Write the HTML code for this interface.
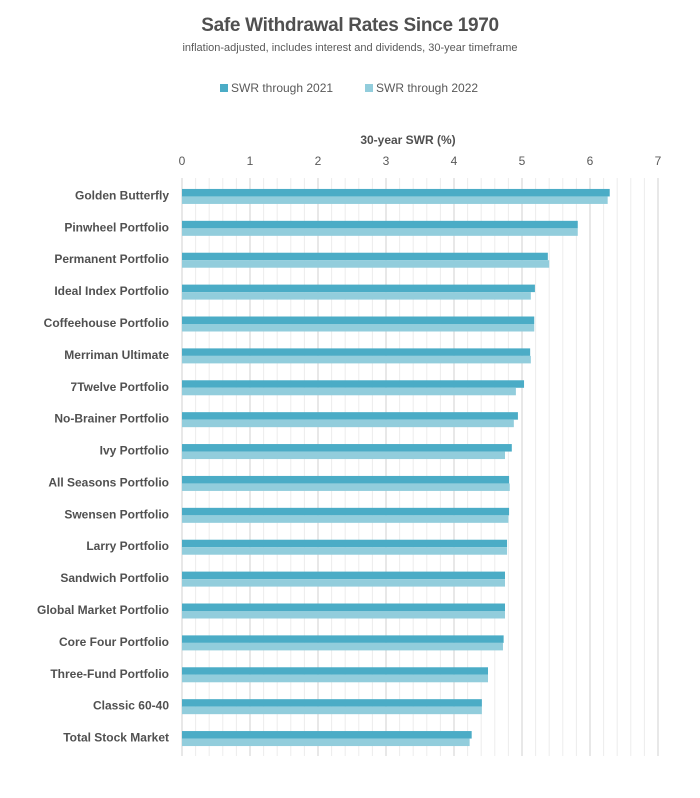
<!DOCTYPE html>
<html><head><meta charset="utf-8">
<style>
body{margin:0;background:#fff;width:700px;height:793px;overflow:hidden;font-family:"Liberation Sans",sans-serif;}
svg text{font-family:"Liberation Sans",sans-serif;}
</style></head>
<body>
<svg id="chart" width="700" height="793" xmlns="http://www.w3.org/2000/svg">
<text x="350" y="31" text-anchor="middle" font-size="19" font-weight="bold" fill="#505050" letter-spacing="-0.3">Safe Withdrawal Rates Since 1970</text>
<text x="350" y="51" text-anchor="middle" font-size="11" fill="#595959">inflation-adjusted, includes interest and dividends, 30-year timeframe</text>
<g>
<g><rect x="220" y="84" width="8" height="8" fill="#4bacc6"/><text x="231" y="92" font-size="12" fill="#595959">SWR through 2021</text></g>
<g><rect x="365" y="84" width="8" height="8" fill="#92cddc"/><text x="376" y="92" font-size="12" fill="#595959">SWR through 2022</text></g>
</g>
<text x="408" y="144" text-anchor="middle" font-size="12" font-weight="bold" fill="#505050">30-year SWR (%)</text>
<g id="grid"></g><g id="ticks"></g><g id="bars"></g><g id="labels"></g>
</svg>
<script>
const categories=["Golden Butterfly","Pinwheel Portfolio","Permanent Portfolio","Ideal Index Portfolio","Coffeehouse Portfolio","Merriman Ultimate","7Twelve Portfolio","No-Brainer Portfolio","Ivy Portfolio","All Seasons Portfolio","Swensen Portfolio","Larry Portfolio","Sandwich Portfolio","Global Market Portfolio","Core Four Portfolio","Three-Fund Portfolio","Classic 60-40","Total Stock Market"];
const swr2021=[6.29,5.82,5.38,5.19,5.18,5.12,5.03,4.94,4.85,4.81,4.81,4.78,4.75,4.75,4.73,4.50,4.41,4.26];
const swr2022=[6.26,5.82,5.40,5.13,5.18,5.13,4.91,4.88,4.75,4.82,4.80,4.78,4.75,4.75,4.72,4.50,4.41,4.23];
const tickLabels=["0","1","2","3","4","5","6","7"];
const NS="http://www.w3.org/2000/svg";
const x0=182,xs=68,gridTop=178,gridBottom=756,rowTop=180,rowBottom=754,rowH=(rowBottom-rowTop)/categories.length;
const X=v=>x0+v*xs;
function el(t,a,p){const e=document.createElementNS(NS,t);for(const k in a)e.setAttribute(k,a[k]);document.getElementById(p).appendChild(e);return e;}
for(let i=0;i<=35;i++){const v=i*0.2;const major=i%5===0;
 const l=el('line',{x1:X(v),x2:X(v),y1:gridTop,y2:gridBottom,stroke:major?'#d0d0d0':'#ececec','stroke-width':1},'grid');
 
 }
tickLabels.forEach((t,i)=>{const e=el('text',{x:X(+t),y:165,'text-anchor':'middle','font-size':12,fill:'#595959'},'ticks');e.textContent=t;
 
 });
categories.forEach((c,i)=>{const cy=rowTop+rowH*(i+0.5)+0.5;
 const b1=el('rect',{x:X(0),y:cy-7.5,width:X(swr2021[i])-X(0),height:7.5,fill:'#4bacc6'},'bars');
 
 
 const b2=el('rect',{x:X(0),y:cy,width:X(swr2022[i])-X(0),height:7.5,fill:'#92cddc'},'bars');
 
 
 const t=el('text',{x:169,y:cy+3,'text-anchor':'end','font-size':12,'font-weight':'bold',fill:'#505050'},'labels');t.textContent=c;
 
 });
</script>
</body></html>
